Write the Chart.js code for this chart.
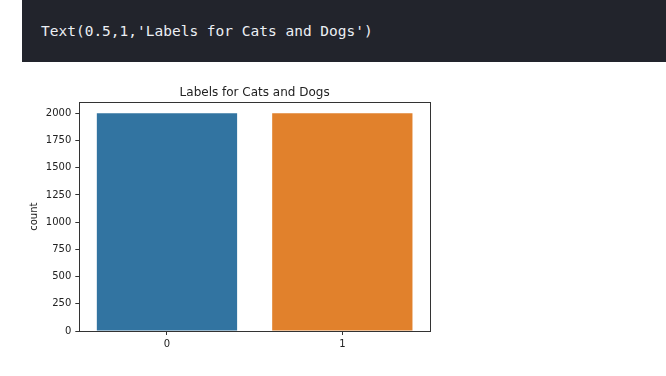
<!DOCTYPE html>
<html>
<head>
<meta charset="utf-8">
<script src="https://cdn.jsdelivr.net/npm/chart.js@4/dist/chart.umd.min.js"></script>
<style>
  html, body { margin: 0; padding: 0; background: #fff; }
  body { width: 666px; height: 376px; position: relative; overflow: hidden; }
  #saida {
    position: absolute; left: 22px; top: 0; width: 644px; height: 62px;
    background: #22242c; z-index: 2;
  }
  #saida span {
    position: absolute; left: 19px; top: 23px;
    font-family: "DejaVu Sans Mono", monospace; font-size: 14.5px;
    color: #eceff4; white-space: pre;
  }
  #grafico { position: absolute; left: 0; top: 0; }
</style>
</head>
<body>
<div id="saida"><span>Text(0.5,1,'Labels for Cats and Dogs')</span></div>
<canvas id="grafico" width="666" height="376"></canvas>
<script>
// dados do countplot
const categorias = ['0', '1'];
const contagens = [2000, 2000];
const coresBarras = ['#3274a1', '#e1812c'];
const ticksY = [0, 250, 500, 750, 1000, 1250, 1500, 1750, 2000];

// desenha a caixa em volta da area do grafico (spines do matplotlib)
const caixa = {
  id: 'caixa',
  afterDraw(chart) {
    const { ctx, chartArea } = chart;
    ctx.save();
    ctx.strokeStyle = '#333';
    ctx.lineWidth = 1;
    ctx.strokeRect(Math.round(chartArea.left) + 0.5, Math.round(chartArea.top) + 0.5,
      Math.round(chartArea.right - chartArea.left), Math.round(chartArea.bottom - chartArea.top));
    ctx.restore();
  }
};

const ctx = document.getElementById('grafico').getContext('2d');
const chartContagem = new Chart(ctx, {
  type: 'bar',
  data: {
    labels: categorias,
    datasets: [{
      label: 'count',
      data: contagens,
      backgroundColor: coresBarras,
      borderWidth: 0,
      categoryPercentage: 1,
      barPercentage: 0.8
    }]
  },
  options: {
    responsive: false,
    animation: false,
    layout: { padding: { left: 0, right: 236, top: 0, bottom: 0 } },
    plugins: {
      legend: { display: false },
      tooltip: { enabled: false },
      title: {
        display: true,
        fullSize: false,
        text: 'Labels for Cats and Dogs',
        color: '#222',
        font: { family: 'DejaVu Sans', size: 12, weight: 'normal' },
        padding: { top: 85.8, bottom: 2.2 }
      }
    },
    scales: {
      x: {
        grid: { display: true, offset: false, drawOnChartArea: false, tickLength: 4, color: '#333' },
        border: { display: false },
        ticks: { color: '#222', padding: 3, font: { family: 'DejaVu Sans', size: 10 } },
        afterFit(axis) { axis.height = 45; }
      },
      y: {
        min: 0,
        max: 2100,
        grid: { display: true, drawOnChartArea: false, tickLength: 4, color: '#333' },
        border: { display: false },
        ticks: {
          color: '#222', padding: 4, font: { family: 'DejaVu Sans', size: 10 },
          callback: v => String(v)
        },
        afterBuildTicks(axis) { axis.ticks = ticksY.map(v => ({ value: v })); },
        afterFit(axis) { axis.width = 79.3; },
        title: {
          display: true,
          text: 'count',
          color: '#222',
          font: { family: 'DejaVu Sans', size: 10 },
          padding: { top: 28, bottom: 0 }
        }
      }
    }
  },
  plugins: [caixa]
});
</script>
</body>
</html>
